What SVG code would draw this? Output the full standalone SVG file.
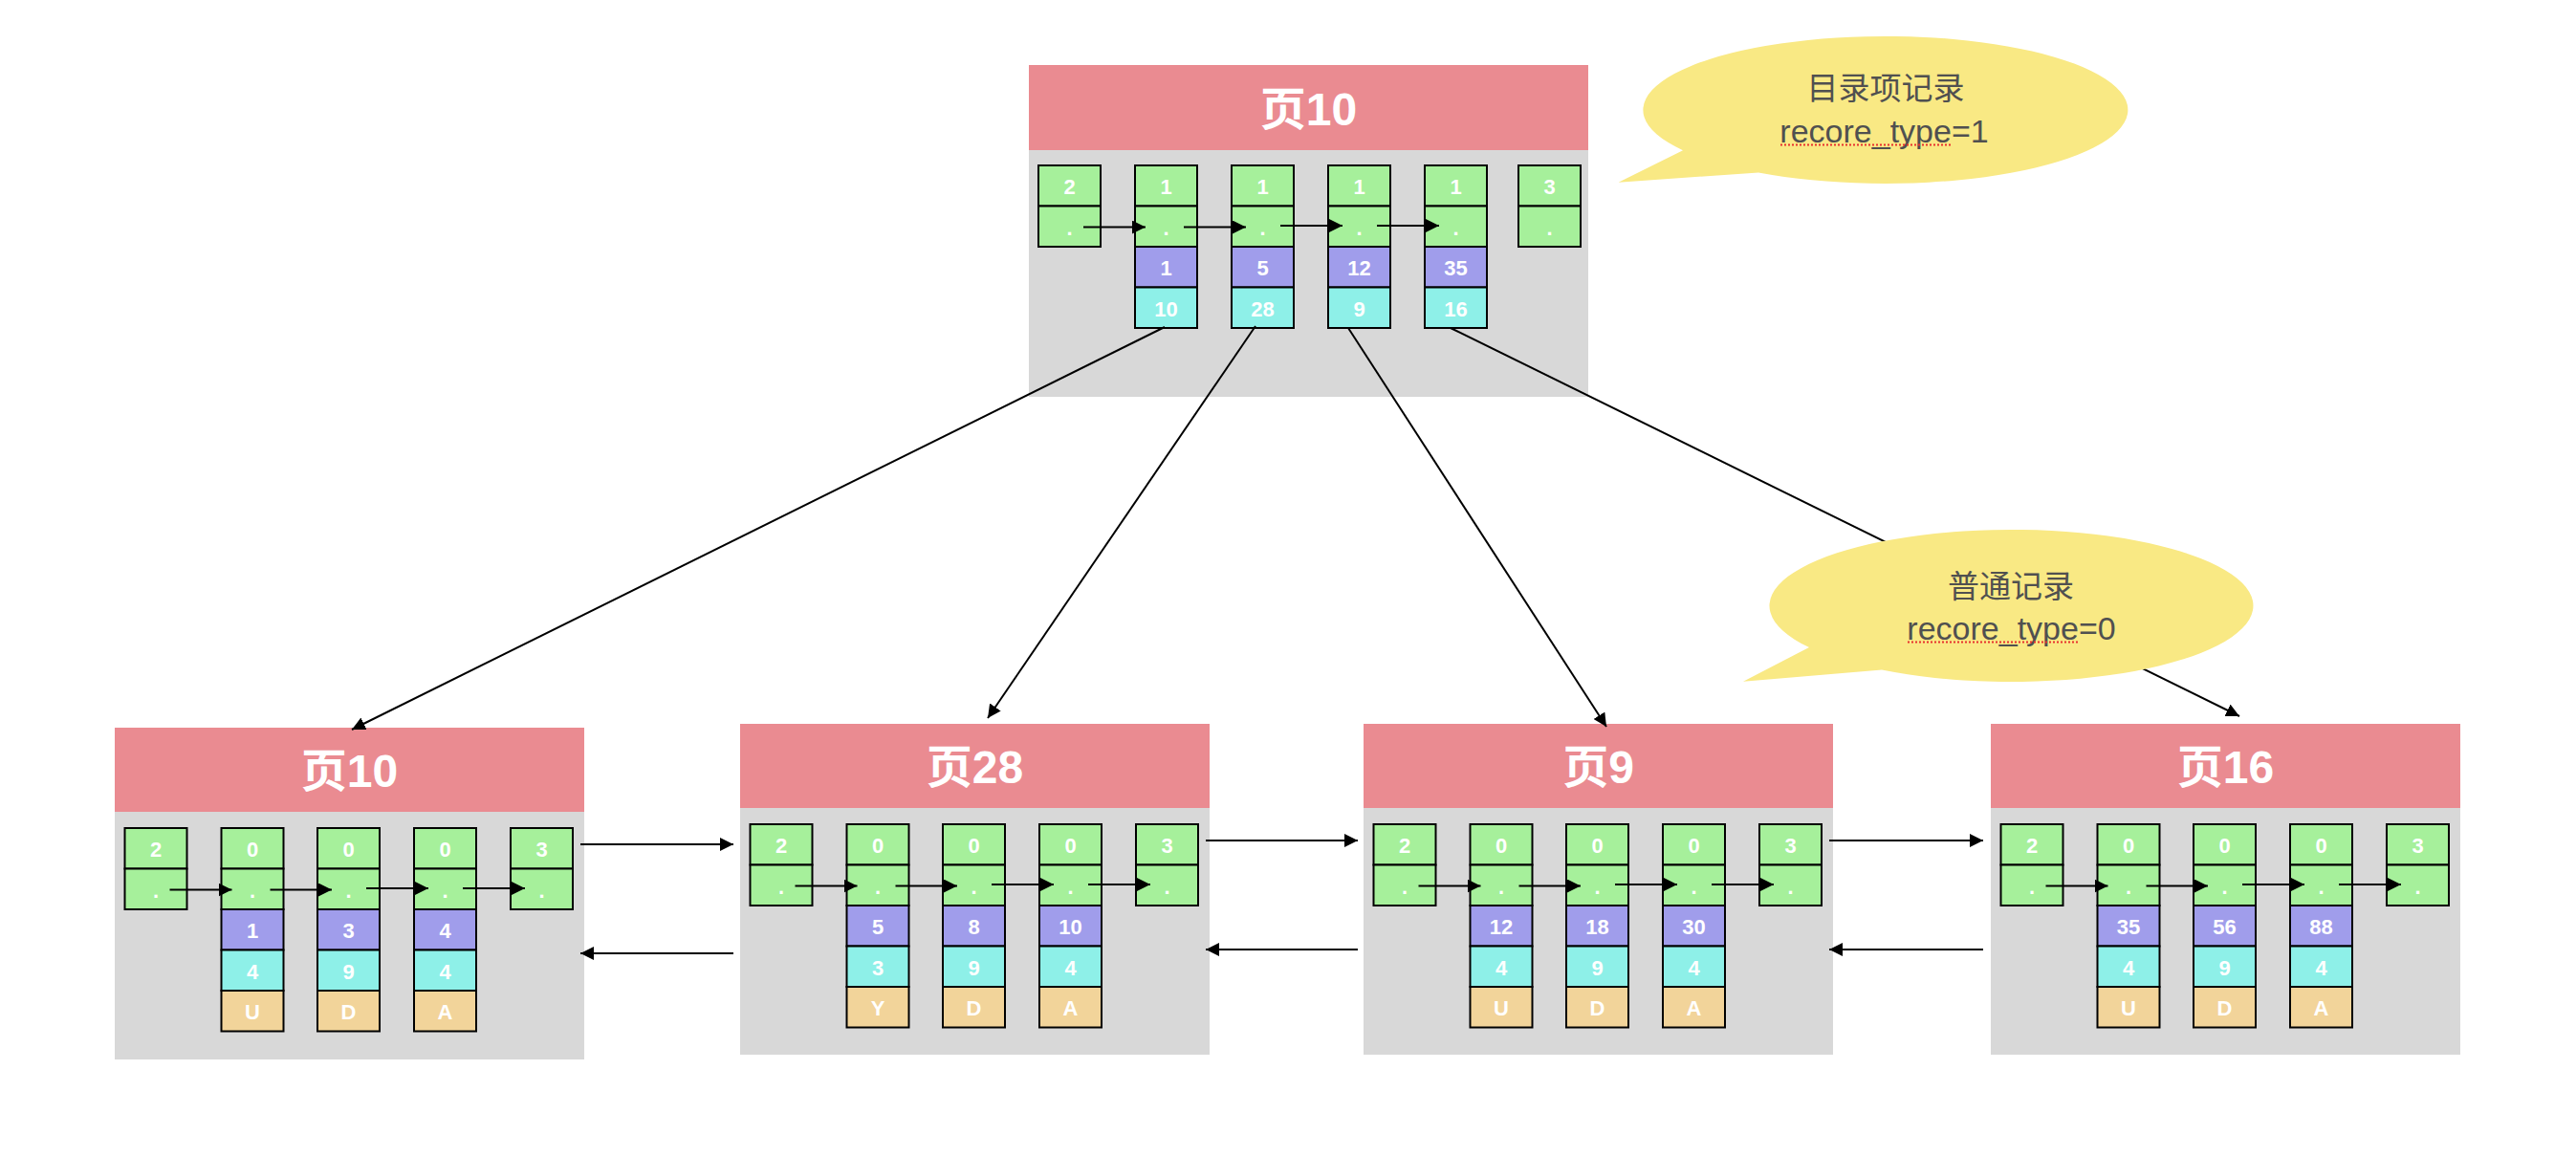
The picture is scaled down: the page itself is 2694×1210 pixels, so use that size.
<svg xmlns="http://www.w3.org/2000/svg" width="2694" height="1210" viewBox="0 0 2694 1210">
<defs>
<style>
.hd{fill:#ea8b91}
.bd{fill:#d8d8d8}
.g{fill:#a6f09b;stroke:#000;stroke-width:2}
.p{fill:#a09deb;stroke:#000;stroke-width:2}
.c{fill:#8ef0e8;stroke:#000;stroke-width:2}
.t{fill:#f2d49a;stroke:#000;stroke-width:2}
.v{font-family:"Liberation Sans","Noto Sans CJK SC",sans-serif;font-size:22px;font-weight:bold;fill:#fff;text-anchor:middle}
.ti{font-family:"Liberation Sans","Noto Sans CJK SC",sans-serif;font-size:48px;font-weight:bold;fill:#fff;text-anchor:middle}
.ln{stroke:#000;stroke-width:2;fill:none;marker-end:url(#ah)}
.bb{fill:#f9e984}
.bt{font-family:"Liberation Sans","Noto Sans CJK SC",sans-serif;fill:#505050;text-anchor:middle}
.ul{stroke:#e8302e;stroke-width:2;stroke-dasharray:2 2;fill:none}
</style>
<marker id="ah" markerUnits="userSpaceOnUse" markerWidth="15" markerHeight="14" refX="14" refY="7" orient="auto">
<path d="M0,0 L14,7 L0,14 Z" fill="#000"/>
</marker>
</defs>
<rect width="2694" height="1210" fill="#fff"/>

<g id="page-top">
<rect class="hd" x="1076" y="68" width="585" height="89"/>
<rect class="bd" x="1076" y="157" width="585" height="258"/>
<text class="ti" x="1368.5" y="131">页10</text>
<rect class="g" x="1086" y="173" width="65" height="42.5"/><rect class="g" x="1086" y="215.5" width="65" height="42.5"/>
<text class="v" x="1118.5" y="203">2</text><text class="v" x="1118.5" y="245.5">.</text>
<rect class="g" x="1187" y="173" width="65" height="42.5"/><rect class="g" x="1187" y="215.5" width="65" height="42.5"/><rect class="p" x="1187" y="258" width="65" height="42.5"/><rect class="c" x="1187" y="300.5" width="65" height="42.5"/>
<text class="v" x="1219.5" y="203">1</text><text class="v" x="1219.5" y="245.5">.</text><text class="v" x="1219.5" y="288">1</text><text class="v" x="1219.5" y="330.5">10</text>
<rect class="g" x="1288" y="173" width="65" height="42.5"/><rect class="g" x="1288" y="215.5" width="65" height="42.5"/><rect class="p" x="1288" y="258" width="65" height="42.5"/><rect class="c" x="1288" y="300.5" width="65" height="42.5"/>
<text class="v" x="1320.5" y="203">1</text><text class="v" x="1320.5" y="245.5">.</text><text class="v" x="1320.5" y="288">5</text><text class="v" x="1320.5" y="330.5">28</text>
<rect class="g" x="1389" y="173" width="65" height="42.5"/><rect class="g" x="1389" y="215.5" width="65" height="42.5"/><rect class="p" x="1389" y="258" width="65" height="42.5"/><rect class="c" x="1389" y="300.5" width="65" height="42.5"/>
<text class="v" x="1421.5" y="203">1</text><text class="v" x="1421.5" y="245.5">.</text><text class="v" x="1421.5" y="288">12</text><text class="v" x="1421.5" y="330.5">9</text>
<rect class="g" x="1490" y="173" width="65" height="42.5"/><rect class="g" x="1490" y="215.5" width="65" height="42.5"/><rect class="p" x="1490" y="258" width="65" height="42.5"/><rect class="c" x="1490" y="300.5" width="65" height="42.5"/>
<text class="v" x="1522.5" y="203">1</text><text class="v" x="1522.5" y="245.5">.</text><text class="v" x="1522.5" y="288">35</text><text class="v" x="1522.5" y="330.5">16</text>
<rect class="g" x="1588" y="173" width="65" height="42.5"/><rect class="g" x="1588" y="215.5" width="65" height="42.5"/>
<text class="v" x="1620.5" y="203">3</text><text class="v" x="1620.5" y="245.5">.</text>
</g>

<g id="page-10">
<rect class="hd" x="120" y="761" width="491" height="88"/>
<rect class="bd" x="120" y="849" width="491" height="259"/>
<text class="ti" x="365.5" y="823">页10</text>
<rect class="g" x="130.5" y="866" width="65" height="42.5"/><rect class="g" x="130.5" y="908.5" width="65" height="42.5"/>
<text class="v" x="163" y="896">2</text><text class="v" x="163" y="938.5">.</text>
<rect class="g" x="231.5" y="866" width="65" height="42.5"/><rect class="g" x="231.5" y="908.5" width="65" height="42.5"/><rect class="p" x="231.5" y="951" width="65" height="42.5"/><rect class="c" x="231.5" y="993.5" width="65" height="42.5"/><rect class="t" x="231.5" y="1036" width="65" height="42.5"/>
<text class="v" x="264" y="896">0</text><text class="v" x="264" y="938.5">.</text><text class="v" x="264" y="981">1</text><text class="v" x="264" y="1023.5">4</text><text class="v" x="264" y="1066">U</text>
<rect class="g" x="332" y="866" width="65" height="42.5"/><rect class="g" x="332" y="908.5" width="65" height="42.5"/><rect class="p" x="332" y="951" width="65" height="42.5"/><rect class="c" x="332" y="993.5" width="65" height="42.5"/><rect class="t" x="332" y="1036" width="65" height="42.5"/>
<text class="v" x="364.5" y="896">0</text><text class="v" x="364.5" y="938.5">.</text><text class="v" x="364.5" y="981">3</text><text class="v" x="364.5" y="1023.5">9</text><text class="v" x="364.5" y="1066">D</text>
<rect class="g" x="433" y="866" width="65" height="42.5"/><rect class="g" x="433" y="908.5" width="65" height="42.5"/><rect class="p" x="433" y="951" width="65" height="42.5"/><rect class="c" x="433" y="993.5" width="65" height="42.5"/><rect class="t" x="433" y="1036" width="65" height="42.5"/>
<text class="v" x="465.5" y="896">0</text><text class="v" x="465.5" y="938.5">.</text><text class="v" x="465.5" y="981">4</text><text class="v" x="465.5" y="1023.5">4</text><text class="v" x="465.5" y="1066">A</text>
<rect class="g" x="534" y="866" width="65" height="42.5"/><rect class="g" x="534" y="908.5" width="65" height="42.5"/>
<text class="v" x="566.5" y="896">3</text><text class="v" x="566.5" y="938.5">.</text>
</g>

<g id="page-28">
<rect class="hd" x="774" y="757" width="491" height="88"/>
<rect class="bd" x="774" y="845" width="491" height="258"/>
<text class="ti" x="1019.5" y="819">页28</text>
<rect class="g" x="784.5" y="862" width="65" height="42.5"/><rect class="g" x="784.5" y="904.5" width="65" height="42.5"/>
<text class="v" x="817" y="892">2</text><text class="v" x="817" y="934.5">.</text>
<rect class="g" x="885.5" y="862" width="65" height="42.5"/><rect class="g" x="885.5" y="904.5" width="65" height="42.5"/><rect class="p" x="885.5" y="947" width="65" height="42.5"/><rect class="c" x="885.5" y="989.5" width="65" height="42.5"/><rect class="t" x="885.5" y="1032" width="65" height="42.5"/>
<text class="v" x="918" y="892">0</text><text class="v" x="918" y="934.5">.</text><text class="v" x="918" y="977">5</text><text class="v" x="918" y="1019.5">3</text><text class="v" x="918" y="1062">Y</text>
<rect class="g" x="986" y="862" width="65" height="42.5"/><rect class="g" x="986" y="904.5" width="65" height="42.5"/><rect class="p" x="986" y="947" width="65" height="42.5"/><rect class="c" x="986" y="989.5" width="65" height="42.5"/><rect class="t" x="986" y="1032" width="65" height="42.5"/>
<text class="v" x="1018.5" y="892">0</text><text class="v" x="1018.5" y="934.5">.</text><text class="v" x="1018.5" y="977">8</text><text class="v" x="1018.5" y="1019.5">9</text><text class="v" x="1018.5" y="1062">D</text>
<rect class="g" x="1087" y="862" width="65" height="42.5"/><rect class="g" x="1087" y="904.5" width="65" height="42.5"/><rect class="p" x="1087" y="947" width="65" height="42.5"/><rect class="c" x="1087" y="989.5" width="65" height="42.5"/><rect class="t" x="1087" y="1032" width="65" height="42.5"/>
<text class="v" x="1119.5" y="892">0</text><text class="v" x="1119.5" y="934.5">.</text><text class="v" x="1119.5" y="977">10</text><text class="v" x="1119.5" y="1019.5">4</text><text class="v" x="1119.5" y="1062">A</text>
<rect class="g" x="1188" y="862" width="65" height="42.5"/><rect class="g" x="1188" y="904.5" width="65" height="42.5"/>
<text class="v" x="1220.5" y="892">3</text><text class="v" x="1220.5" y="934.5">.</text>
</g>

<g id="page-9">
<rect class="hd" x="1426" y="757" width="491" height="88"/>
<rect class="bd" x="1426" y="845" width="491" height="258"/>
<text class="ti" x="1671.5" y="819">页9</text>
<rect class="g" x="1436.5" y="862" width="65" height="42.5"/><rect class="g" x="1436.5" y="904.5" width="65" height="42.5"/>
<text class="v" x="1469" y="892">2</text><text class="v" x="1469" y="934.5">.</text>
<rect class="g" x="1537.5" y="862" width="65" height="42.5"/><rect class="g" x="1537.5" y="904.5" width="65" height="42.5"/><rect class="p" x="1537.5" y="947" width="65" height="42.5"/><rect class="c" x="1537.5" y="989.5" width="65" height="42.5"/><rect class="t" x="1537.5" y="1032" width="65" height="42.5"/>
<text class="v" x="1570" y="892">0</text><text class="v" x="1570" y="934.5">.</text><text class="v" x="1570" y="977">12</text><text class="v" x="1570" y="1019.5">4</text><text class="v" x="1570" y="1062">U</text>
<rect class="g" x="1638" y="862" width="65" height="42.5"/><rect class="g" x="1638" y="904.5" width="65" height="42.5"/><rect class="p" x="1638" y="947" width="65" height="42.5"/><rect class="c" x="1638" y="989.5" width="65" height="42.5"/><rect class="t" x="1638" y="1032" width="65" height="42.5"/>
<text class="v" x="1670.5" y="892">0</text><text class="v" x="1670.5" y="934.5">.</text><text class="v" x="1670.5" y="977">18</text><text class="v" x="1670.5" y="1019.5">9</text><text class="v" x="1670.5" y="1062">D</text>
<rect class="g" x="1739" y="862" width="65" height="42.5"/><rect class="g" x="1739" y="904.5" width="65" height="42.5"/><rect class="p" x="1739" y="947" width="65" height="42.5"/><rect class="c" x="1739" y="989.5" width="65" height="42.5"/><rect class="t" x="1739" y="1032" width="65" height="42.5"/>
<text class="v" x="1771.5" y="892">0</text><text class="v" x="1771.5" y="934.5">.</text><text class="v" x="1771.5" y="977">30</text><text class="v" x="1771.5" y="1019.5">4</text><text class="v" x="1771.5" y="1062">A</text>
<rect class="g" x="1840" y="862" width="65" height="42.5"/><rect class="g" x="1840" y="904.5" width="65" height="42.5"/>
<text class="v" x="1872.5" y="892">3</text><text class="v" x="1872.5" y="934.5">.</text>
</g>

<g id="page-16">
<rect class="hd" x="2082" y="757" width="491" height="88"/>
<rect class="bd" x="2082" y="845" width="491" height="258"/>
<text class="ti" x="2327.5" y="819">页16</text>
<rect class="g" x="2092.5" y="862" width="65" height="42.5"/><rect class="g" x="2092.5" y="904.5" width="65" height="42.5"/>
<text class="v" x="2125" y="892">2</text><text class="v" x="2125" y="934.5">.</text>
<rect class="g" x="2193.5" y="862" width="65" height="42.5"/><rect class="g" x="2193.5" y="904.5" width="65" height="42.5"/><rect class="p" x="2193.5" y="947" width="65" height="42.5"/><rect class="c" x="2193.5" y="989.5" width="65" height="42.5"/><rect class="t" x="2193.5" y="1032" width="65" height="42.5"/>
<text class="v" x="2226" y="892">0</text><text class="v" x="2226" y="934.5">.</text><text class="v" x="2226" y="977">35</text><text class="v" x="2226" y="1019.5">4</text><text class="v" x="2226" y="1062">U</text>
<rect class="g" x="2294" y="862" width="65" height="42.5"/><rect class="g" x="2294" y="904.5" width="65" height="42.5"/><rect class="p" x="2294" y="947" width="65" height="42.5"/><rect class="c" x="2294" y="989.5" width="65" height="42.5"/><rect class="t" x="2294" y="1032" width="65" height="42.5"/>
<text class="v" x="2326.5" y="892">0</text><text class="v" x="2326.5" y="934.5">.</text><text class="v" x="2326.5" y="977">56</text><text class="v" x="2326.5" y="1019.5">9</text><text class="v" x="2326.5" y="1062">D</text>
<rect class="g" x="2395" y="862" width="65" height="42.5"/><rect class="g" x="2395" y="904.5" width="65" height="42.5"/><rect class="p" x="2395" y="947" width="65" height="42.5"/><rect class="c" x="2395" y="989.5" width="65" height="42.5"/><rect class="t" x="2395" y="1032" width="65" height="42.5"/>
<text class="v" x="2427.5" y="892">0</text><text class="v" x="2427.5" y="934.5">.</text><text class="v" x="2427.5" y="977">88</text><text class="v" x="2427.5" y="1019.5">4</text><text class="v" x="2427.5" y="1062">A</text>
<rect class="g" x="2496" y="862" width="65" height="42.5"/><rect class="g" x="2496" y="904.5" width="65" height="42.5"/>
<text class="v" x="2528.5" y="892">3</text><text class="v" x="2528.5" y="934.5">.</text>
</g>

<g id="connectors">
<line class="ln" x1="1133" y1="237.5" x2="1198" y2="237.5"/>
<line class="ln" x1="1238" y1="237.5" x2="1303" y2="237.5"/>
<line class="ln" x1="1339" y1="236" x2="1404" y2="236"/>
<line class="ln" x1="1440" y1="236" x2="1505" y2="236"/>
<line class="ln" x1="177.5" y1="930.5" x2="242.5" y2="930.5"/>
<line class="ln" x1="282.5" y1="930.5" x2="347" y2="930.5"/>
<line class="ln" x1="383" y1="929" x2="448" y2="929"/>
<line class="ln" x1="484" y1="929" x2="549" y2="929"/>
<line class="ln" x1="831.5" y1="926.5" x2="896.5" y2="926.5"/>
<line class="ln" x1="936.5" y1="926.5" x2="1001" y2="926.5"/>
<line class="ln" x1="1037" y1="925" x2="1102" y2="925"/>
<line class="ln" x1="1138" y1="925" x2="1203" y2="925"/>
<line class="ln" x1="1483.5" y1="926.5" x2="1548.5" y2="926.5"/>
<line class="ln" x1="1588.5" y1="926.5" x2="1653" y2="926.5"/>
<line class="ln" x1="1689" y1="925" x2="1754" y2="925"/>
<line class="ln" x1="1790" y1="925" x2="1855" y2="925"/>
<line class="ln" x1="2139.5" y1="926.5" x2="2204.5" y2="926.5"/>
<line class="ln" x1="2244.5" y1="926.5" x2="2309" y2="926.5"/>
<line class="ln" x1="2345" y1="925" x2="2410" y2="925"/>
<line class="ln" x1="2446" y1="925" x2="2511" y2="925"/>
<line class="ln" x1="607" y1="883" x2="767" y2="883"/>
<line class="ln" x1="767" y1="997" x2="607" y2="997"/>
<line class="ln" x1="1261" y1="879" x2="1420" y2="879"/>
<line class="ln" x1="1420" y1="993" x2="1261" y2="993"/>
<line class="ln" x1="1913" y1="879" x2="2074" y2="879"/>
<line class="ln" x1="2074" y1="993" x2="1913" y2="993"/>
<line class="ln" x1="1218" y1="342" x2="368" y2="763"/>
<line class="ln" x1="1313" y1="341" x2="1033" y2="751"/>
<line class="ln" x1="1410" y1="343" x2="1680" y2="760"/>
<line class="ln" x1="1517" y1="343" x2="2342" y2="749"/>
</g>

<g id="bubble-directory">
<path class="bb" d="M1839,180.5 A253.5,77 0 1 0 1760,157.2 L1692.5,190.7 Z"/>
<text class="bt" x="1972" y="104" font-size="33">目录项记录</text>
<text class="bt" x="1970.5" y="149" font-size="34">recore_type=1</text>
<line class="ul" x1="1862" y1="151.5" x2="2040" y2="151.5"/>
</g>

<g id="bubble-normal">
<path class="bb" d="M1968,700.6 A253,79.5 0 1 0 1892,677.1 L1823,712.7 Z"/>
<text class="bt" x="2103" y="625" font-size="33">普通记录</text>
<text class="bt" x="2103.5" y="669" font-size="34">recore_type=0</text>
<line class="ul" x1="1995" y1="671.5" x2="2173" y2="671.5"/>
</g>
</svg>
